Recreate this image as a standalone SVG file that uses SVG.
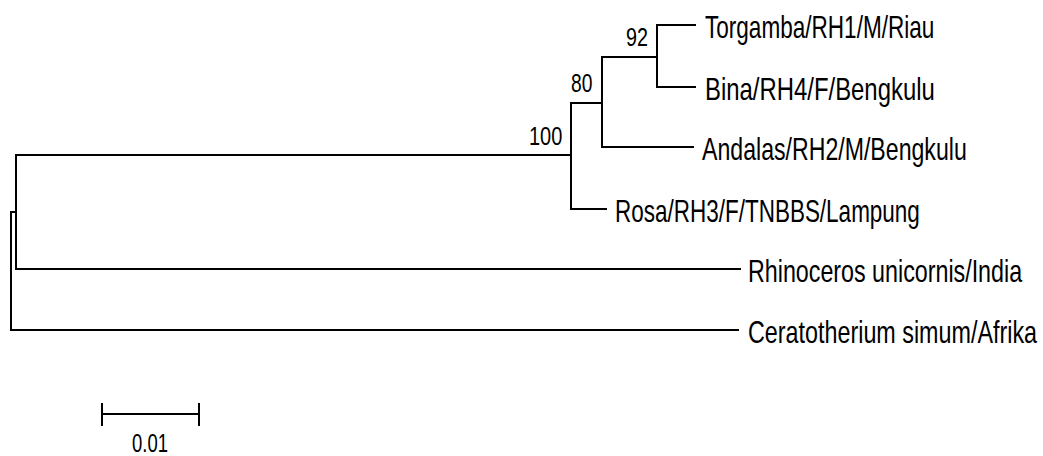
<svg xmlns="http://www.w3.org/2000/svg" width="1043" height="456" viewBox="0 0 1043 456">
<style>
.br{fill:none;stroke:#000;stroke-width:2;stroke-linecap:square}
.lb{font-family:"Liberation Sans",Arial,sans-serif;font-size:32px;fill:#000}
.bs{font-family:"Liberation Sans",Arial,sans-serif;font-size:25px;fill:#000}
</style>
<rect width="1043" height="456" fill="#fff"/>
<g id="connectors">
<path class="br" d="M11,212 H16 M11,212 V330 H738 M16,155 V269 H740 M16,155 H571 M571,103 V209 H606 M571,103 H602 M602,57 V147 H693 M602,57 H657 M657,25 V87 H695 M657,25 H695"/>
</g>
<g id="node-torgamba"><text class="lb" transform="translate(705,38) scale(0.705,1)">Torgamba/RH1/M/Riau</text></g>
<g id="node-bina"><text class="lb" transform="translate(705,100) scale(0.747,1)">Bina/RH4/F/Bengkulu</text></g>
<g id="node-andalas"><text class="lb" transform="translate(702,160) scale(0.723,1)">Andalas/RH2/M/Bengkulu</text></g>
<g id="node-rosa"><text class="lb" transform="translate(615,222) scale(0.703,1)">Rosa/RH3/F/TNBBS/Lampung</text></g>
<g id="node-rhino"><text class="lb" transform="translate(748,282) scale(0.727,1)">Rhinoceros unicornis/India</text></g>
<g id="node-cerato"><text class="lb" transform="translate(748,343) scale(0.729,1)">Ceratotherium simum/Afrika</text></g>
<g id="bootstrap">
<text class="bs" transform="translate(626,46) scale(0.79,1)">92</text>
<text class="bs" transform="translate(571,92) scale(0.77,1)">80</text>
<text class="bs" transform="translate(529,145) scale(0.8,1)">100</text>
</g>
<g id="scale-bar">
<path class="br" d="M102,414 H199 M102,404 V425 M199,404 V425"/>
<text class="bs" transform="translate(132,452) scale(0.74,1)">0.01</text>
</g>
</svg>
